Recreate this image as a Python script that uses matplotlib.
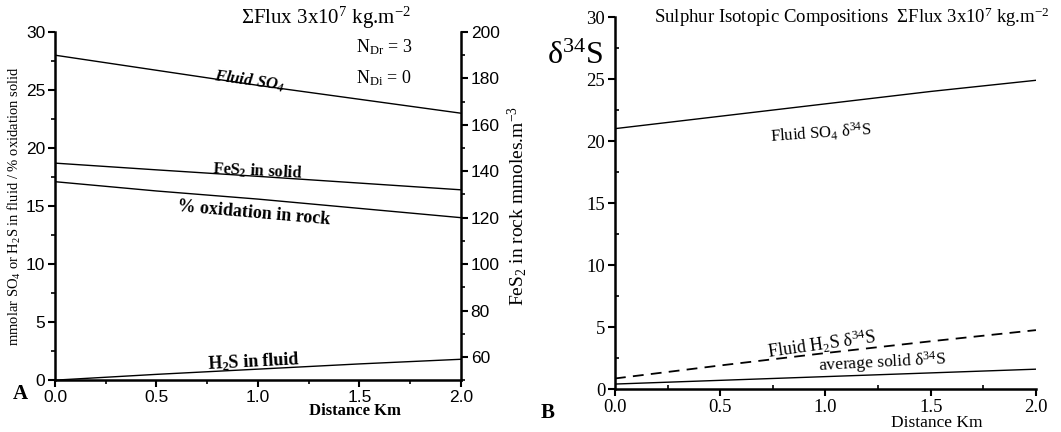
import matplotlib
matplotlib.use("Agg")
import matplotlib.pyplot as plt
from matplotlib.ticker import MultipleLocator

plt.rcParams['font.family'] = 'Liberation Serif'
plt.rcParams['mathtext.fontset'] = 'custom'
plt.rcParams['mathtext.rm'] = 'Liberation Serif'
plt.rcParams['mathtext.it'] = 'Liberation Serif:italic'
plt.rcParams['mathtext.bf'] = 'Liberation Serif:bold'
plt.rcParams['mathtext.default'] = 'regular'

# distance along flow path (km)
distance = [0.0, 0.5, 1.0, 1.5, 2.0]

# panel A
fluid_so4 = [28.0, 26.7, 25.4, 24.2, 23.0]
pct_oxidation = [17.1, 16.3, 15.6, 14.8, 14.0]
h2s_fluid = [0.0, 0.5, 0.95, 1.4, 1.8]
fes2_solid = [143.5, 140.6, 137.8, 134.9, 132.0]   # right axis, mmoles.m-3

# panel B
d34s_so4 = [21.0, 22.0, 23.0, 24.0, 24.9]
d34s_h2s = [0.85, 1.9, 2.9, 3.85, 4.75]
d34s_solid = [0.4, 0.7, 1.0, 1.3, 1.6]

x_ticks = [0.0, 0.5, 1.0, 1.5, 2.0]
x_ticklabels = ['0.0', '0.5', '1.0', '1.5', '2.0']

fig = plt.figure(figsize=(10.61, 4.32), dpi=100)

# ---------------- panel A ----------------
ax = fig.add_axes([0.0518, 0.120, 0.3827, 0.806])
ax2 = ax.twinx()

ax.plot(distance, fluid_so4, color='black', lw=1.0)
ax.plot(distance, pct_oxidation, color='black', lw=1.0)
ax.plot(distance, h2s_fluid, color='black', lw=1.0)
ax2.plot(distance, fes2_solid, color='black', lw=1.0)

ax.set_xlim(0, 2)
ax.set_ylim(0, 30)
ax2.set_ylim(50, 200)
ax.set_xticks(x_ticks)
ax.set_xticklabels(x_ticklabels)
ax.xaxis.set_minor_locator(MultipleLocator(0.25))
ax.set_yticks([0, 5, 10, 15, 20, 25, 30])
ax.yaxis.set_minor_locator(MultipleLocator(2.5))
ax2.set_yticks([60, 80, 100, 120, 140, 160, 180, 200])
ax2.yaxis.set_minor_locator(MultipleLocator(10))

for a in (ax, ax2):
    a.spines['top'].set_visible(False)
    for s in a.spines.values():
        s.set_linewidth(1.8)
ax.spines['right'].set_visible(False)
ax2.spines['left'].set_visible(False)
ax2.spines['bottom'].set_visible(False)

sans = 'Liberation Sans'
ax.tick_params(axis='both', which='major', length=5, width=1.5, direction='out',
               labelsize=12.5, pad=2)
ax.tick_params(axis='both', which='minor', length=3, width=1.2, direction='out')
ax2.tick_params(axis='y', which='major', length=5, width=1.5, direction='out',
                labelsize=12.5, pad=2)
ax2.tick_params(axis='y', which='minor', length=3, width=1.2, direction='out')
for lab in ax.get_xticklabels() + ax.get_yticklabels() + ax2.get_yticklabels():
    lab.set_fontfamily(sans)

ax.set_ylabel('mmolar SO$_4$ or H$_2$S in fluid / % oxidation solid', fontsize=10.5, labelpad=2)
ax2.set_ylabel('FeS$_2$ in rock mmoles.m$^{-3}$', fontsize=14, labelpad=4)

ax.text(1.335, 31.2, r'ΣFlux 3x10$^7$ kg.m$^{-2}$', ha='center', va='center', fontsize=15)
ax.text(1.62, 28.7, 'N$_{Dr}$ = 3', ha='center', va='center', fontsize=13)
ax.text(1.62, 26.0, 'N$_{Di}$ = 0', ha='center', va='center', fontsize=13)
ax.text(0.96, 25.8, 'Fluid SO$_4$', ha='center', va='center', fontsize=12,
        fontweight='bold', style='italic', rotation=-8)
ax.text(1.0, 18.0, 'FeS$_2$ in solid', ha='center', va='center', fontsize=12,
        fontweight='bold', rotation=-3)
ax.text(0.98, 14.4, '% oxidation in rock', ha='center', va='center', fontsize=13,
        fontweight='bold', rotation=-5)
ax.text(0.98, 1.6, 'H$_2$S in fluid', ha='center', va='center', fontsize=13,
        fontweight='bold', rotation=3)
ax.text(1.48, -2.65, 'Distance Km', ha='center', va='center', fontsize=12,
        fontweight='bold')
ax.text(-0.085, -0.04, 'A', transform=ax.transAxes, ha='center', va='center',
        fontsize=15, fontweight='bold')

# ---------------- panel B ----------------
bx = fig.add_axes([0.5796, 0.0995, 0.3968, 0.861])
bx.plot(distance, d34s_so4, color='black', lw=1.0)
bx.plot(distance, d34s_h2s, color='black', lw=1.3, ls=(0, (6, 4)))
bx.plot(distance, d34s_solid, color='black', lw=1.0)

bx.set_xlim(0, 2)
bx.set_ylim(0, 30)
bx.set_xticks(x_ticks)
bx.set_xticklabels(x_ticklabels)
bx.xaxis.set_minor_locator(MultipleLocator(0.25))
bx.set_yticks([0, 5, 10, 15, 20, 25, 30])
bx.yaxis.set_minor_locator(MultipleLocator(2.5))
bx.spines['top'].set_visible(False)
bx.spines['right'].set_visible(False)
for s in bx.spines.values():
    s.set_linewidth(1.8)
bx.tick_params(axis='both', which='major', length=5, width=1.5, direction='out',
               labelsize=13.5, pad=2)
bx.tick_params(axis='both', which='minor', length=3, width=1.2, direction='in')

bx.text(0.563, 1.0, r'Sulphur Isotopic Compositions  ΣFlux 3x10$^7$ kg.m$^{-2}$',
        transform=bx.transAxes, ha='center', va='center', fontsize=13.5)
bx.text(-0.095, 0.895, r'δ$^{34}$S', transform=bx.transAxes, ha='center',
        va='center', fontsize=23)
bx.text(0.98, 20.6, r'Fluid SO$_4$ δ$^{34}$S', ha='center', va='center',
        fontsize=12, rotation=4)
bx.text(0.98, 3.6, r'Fluid H$_2$S δ$^{34}$S', ha='center', va='center',
        fontsize=13, rotation=8)
bx.text(1.27, 2.1, r'average solid δ$^{34}$S', ha='center', va='center',
        fontsize=12.5, rotation=3)
bx.text(1.53, -2.75, 'Distance Km', ha='center', va='center', fontsize=12.5)
bx.text(-0.16, -0.065, 'B', transform=bx.transAxes, ha='center', va='center',
        fontsize=15, fontweight='bold')

fig.savefig('out.png', dpi=100)
